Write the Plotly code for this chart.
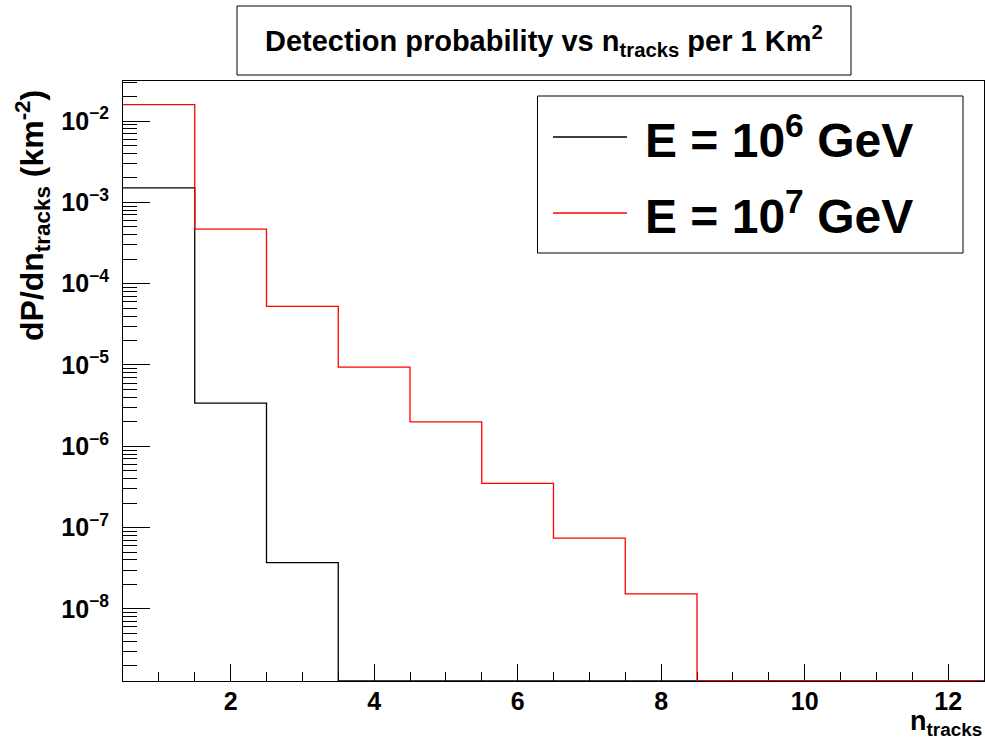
import plotly.graph_objects as go

# ---- data ----
bin_edges = [0.5, 1.5, 2.5, 3.5, 4.5, 5.5, 6.5, 7.5, 8.5, 9.5, 10.5, 11.5, 12.5]
e6_values = [1.51e-3, 3.4e-6, 3.7e-8, 0, 0, 0, 0, 0, 0, 0, 0, 0]
e7_values = [1.59e-2, 4.7e-4, 5.25e-5, 9.4e-6, 2.0e-6, 3.5e-7, 7.4e-8, 1.53e-8, 0, 0, 0, 0]
series_names = ["E = 10<sup>6</sup> GeV", "E = 10<sup>7</sup> GeV"]
y_tick_vals = [1e-8, 1e-7, 1e-6, 1e-5, 1e-4, 1e-3, 1e-2]
y_tick_text = ["10<sup>\u22128</sup>", "10<sup>\u22127</sup>", "10<sup>\u22126</sup>",
               "10<sup>\u22125</sup>", "10<sup>\u22124</sup>", "10<sup>\u22123</sup>",
               "10<sup>\u22122</sup>"]
title_text = "<b>Detection probability vs n<sub>tracks</sub> per 1 Km<sup>2</sup></b>"
x_title = "<b>n<sub>tracks</sub></b>"
y_title = "<b>dP/dn<sub>tracks</sub> (km<sup>-2</sup>)</b>"

W, H = 985, 744
L, R, T, B = 123, 1, 81, 63
y_log_range = [-8.887, -1.507]
y_floor = 10 ** y_log_range[0]

FONT = "Liberation Sans"


def step_y(vals):
    v = [x if x > 0 else y_floor for x in vals]
    return v + [v[-1]]


fig = go.Figure()
fig.add_trace(go.Scatter(x=bin_edges, y=step_y(e6_values), mode="lines", line_shape="hv",
                         line=dict(color="black", width=1.3), name=series_names[0],
                         showlegend=False))
fig.add_trace(go.Scatter(x=bin_edges, y=step_y(e7_values), mode="lines", line_shape="hv",
                         line=dict(color="#ff0000", width=1.3), name=series_names[1],
                         showlegend=False))

minor_vals = []
for d in range(-9, -1):
    for k in range(2, 10):
        minor_vals.append(k * 10 ** d)

fig.update_xaxes(range=[bin_edges[0], bin_edges[-1]], showline=True, mirror=True,
                 linecolor="black", linewidth=1, ticks="inside", ticklen=17, tickwidth=1,
                 tickcolor="black", tick0=0, dtick=2, showgrid=False, zeroline=False,
                 layer="below traces", ticklabelstandoff=-2,
                 tickfont=dict(family=FONT, size=25, color="black", weight="bold"),
                 minor=dict(ticks="inside", ticklen=9, tickwidth=1, tickcolor="black",
                            dtick=0.5, tick0=0, showgrid=False))
fig.update_yaxes(type="log", range=y_log_range, showline=True, mirror=True,
                 linecolor="black", linewidth=1, ticks="inside", ticklen=27, tickwidth=1,
                 tickcolor="black", tickmode="array", tickvals=y_tick_vals,
                 ticktext=y_tick_text, showgrid=False, zeroline=False,
                 ticklabelstandoff=8, layer="below traces",
                 tickfont=dict(family=FONT, size=25, color="black", weight="bold"),
                 minor=dict(ticks="inside", ticklen=14, tickwidth=1, tickcolor="black",
                            tickmode="array", tickvals=minor_vals, showgrid=False))


def px(x):
    return (x - L) / (W - L - R)


def py(y):
    return 1 - (y - T) / (H - T - B)


shapes = [
    # title box
    dict(type="rect", xref="paper", yref="paper", x0=px(237), x1=px(851), y0=py(75), y1=py(6),
         line=dict(color="black", width=1), fillcolor="white", layer="above"),
    # legend box
    dict(type="rect", xref="paper", yref="paper", x0=px(537.5), x1=px(963), y0=py(253), y1=py(96),
         line=dict(color="black", width=1), fillcolor="white", layer="above"),
    dict(type="line", xref="paper", yref="paper", x0=px(553), x1=px(627), y0=py(137), y1=py(137),
         line=dict(color="black", width=1.3), layer="above"),
    dict(type="line", xref="paper", yref="paper", x0=px(553), x1=px(627), y0=py(213), y1=py(213),
         line=dict(color="#ff0000", width=1.3), layer="above"),
]

annotations = [
    dict(text=title_text, xref="paper", yref="paper", x=px(544), y=py(41), xanchor="center",
         yanchor="middle", showarrow=False, font=dict(family=FONT, size=29, color="black")),
    dict(text="<b>" + series_names[0] + "</b>", xref="paper", yref="paper", x=px(643), y=py(137),
         xanchor="left", yanchor="middle", showarrow=False,
         font=dict(family=FONT, size=48, color="black")),
    dict(text="<b>" + series_names[1] + "</b>", xref="paper", yref="paper", x=px(643), y=py(213),
         xanchor="left", yanchor="middle", showarrow=False,
         font=dict(family=FONT, size=48, color="black")),
    dict(text=x_title, xref="paper", yref="paper", x=px(984), y=py(742), xanchor="right",
         yanchor="bottom", showarrow=False, font=dict(family=FONT, size=27, color="black")),
    dict(text=y_title, xref="paper", yref="paper", x=px(32), y=py(216), xanchor="center",
         yanchor="middle", textangle=-90, showarrow=False,
         font=dict(family=FONT, size=32, color="black")),
]

fig.update_layout(width=W, height=H, margin=dict(l=L, r=R, t=T, b=B, autoexpand=False),
                  paper_bgcolor="white", plot_bgcolor="white", showlegend=False,
                  shapes=shapes, annotations=annotations)

fig.write_html("out.html")
